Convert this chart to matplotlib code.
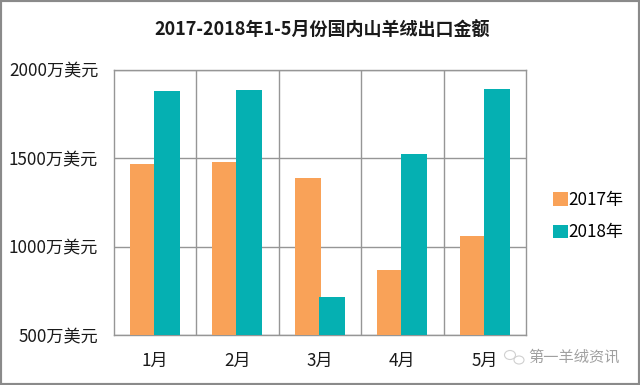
from matplotlib import pyplot as plt
from matplotlib.patches import Ellipse, Rectangle
import numpy as np

plt.rcParams['font.family'] = ['Noto Sans CJK SC', 'DejaVu Sans']

months = ['1月', '2月', '3月', '4月', '5月']
values_2017 = [1468, 1477, 1386, 865, 1058]
values_2018 = [1878, 1884, 712, 1522, 1890]
y_ticks = [500, 1000, 1500, 2000]
y_labels = ['500万美元', '1000万美元', '1500万美元', '2000万美元']

W, H = 640, 385
fig = plt.figure(figsize=(W / 100, H / 100), dpi=100, facecolor='white')
ax = fig.add_axes([113.5 / W, 1 - 335 / H, 412.5 / W, 265.5 / H])

x = np.arange(len(months))
ax.bar(x - 0.145, values_2017, width=0.315, color='#F9A258', label='2017年', zorder=3)
ax.bar(x + 0.145, values_2018, width=0.315, color='#05B0B2', label='2018年', zorder=4)

ax.set_xlim(-0.5, 4.5)
ax.set_ylim(500, 2000)
ax.set_yticks(y_ticks)
ax.set_yticklabels(y_labels, fontsize=12.3, color='#1a1a1a')
ax.set_xticks(x)
ax.set_xticklabels(months, fontsize=12.3, color='#1a1a1a')
ax.tick_params(axis='both', length=0)
ax.tick_params(axis='x', pad=12)
ax.tick_params(axis='y', pad=11)

# vertical lines sit between the groups, not on the ticks
ax.set_axisbelow(True)
ax.grid(axis='y', color='#969696', linewidth=1, zorder=1)
for pos in x[:-1] + 0.5:
    ax.axvline(pos, color='#969696', linewidth=1, zorder=1)
for spine in ax.spines.values():
    spine.set_color('#969696')
    spine.set_linewidth(1)

fig.text(322 / W, 1 - 30 / H, '2017-2018年1-5月份国内山羊绒出口金额', ha='center', va='center',
         fontsize=13, fontweight='bold', color='#1a1a1a')

ax.legend(loc='center left', bbox_to_anchor=(553 / W, 1 - 216 / H), bbox_transform=fig.transFigure,
          frameon=False, fontsize=12.3, handlelength=0.85, handleheight=0.85, handletextpad=0.05,
          labelspacing=0.85, borderpad=0, borderaxespad=0)

# watermark
fig.text(528 / W, 1 - 357 / H, '第一羊绒资讯', ha='left', va='center', fontsize=11, color='#a0a0a0')
for cx, cy, w, h in [(510, 355, 11, 9), (519, 360, 10, 8)]:
    fig.add_artist(Ellipse((cx / W, 1 - cy / H), w / W, h / H, transform=fig.transFigure,
                           fill=False, edgecolor='#d0d0d0', linewidth=0.8))

# grey frame round the picture
fig.add_artist(Rectangle((0, 0), 1, 1, transform=fig.transFigure, fill=False,
                         edgecolor='#8a8a8a', linewidth=3))

fig.savefig('out.png', dpi=100)
